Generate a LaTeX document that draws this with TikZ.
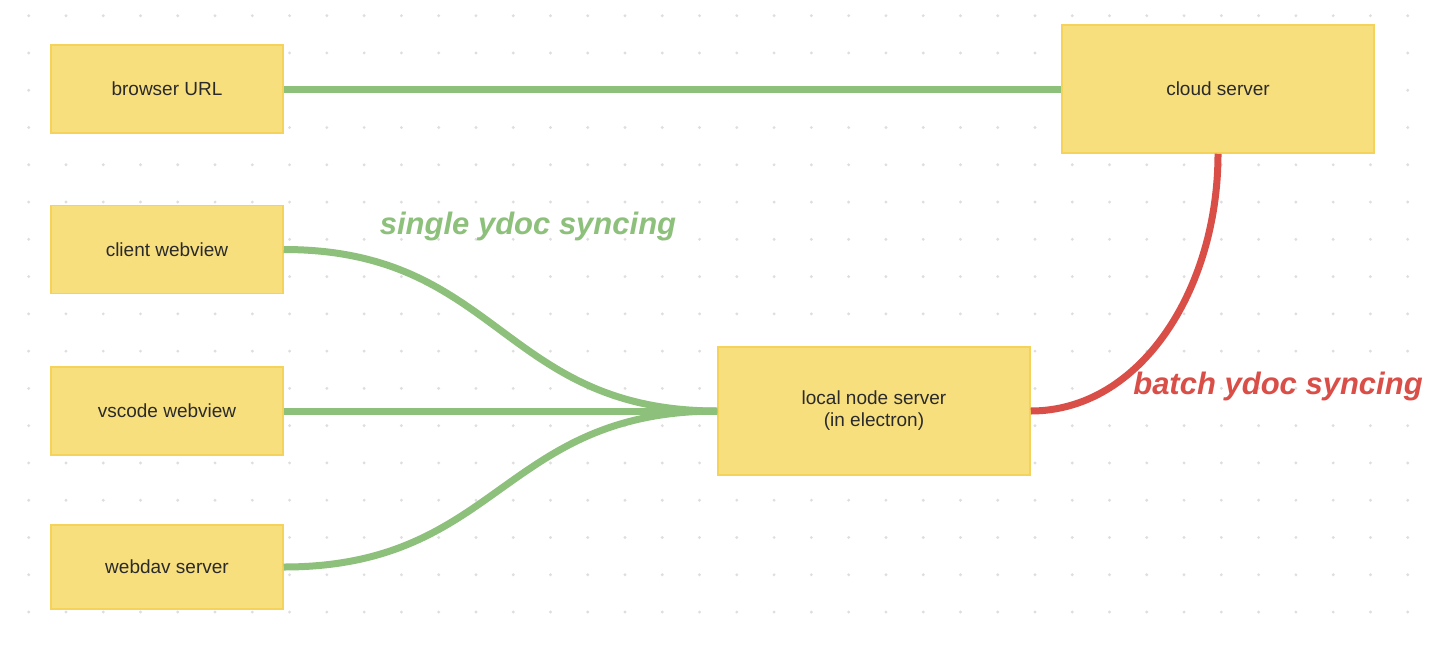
\documentclass[tikz,border=0pt]{standalone}
\usepackage{fontspec}
\setmainfont{Liberation Sans}
\definecolor{boxfill}{HTML}{F8DF7E}
\definecolor{boxline}{HTML}{F5D35A}
\definecolor{lgreen}{HTML}{8DC07B}
\definecolor{lred}{HTML}{DA4E48}
\definecolor{dotc}{HTML}{DEDEDE}
\definecolor{txt}{HTML}{2A2A2A}
\begin{document}
\begin{tikzpicture}[x=1pt,y=-1pt,
  box/.style={draw=boxline,line width=1.5pt,fill=boxfill,text=txt,
    font=\fontsize{19}{22}\selectfont,align=center,inner sep=0pt},
  small/.style={box,minimum width=232pt,minimum height=88pt},
  big/.style={box,minimum width=312pt,minimum height=128pt},
  gline/.style={draw=lgreen,line width=7pt},
  rline/.style={draw=lred,line width=7pt},
  hand/.style={font=\fontsize{31}{34}\selectfont\bfseries\itshape,inner sep=0pt}
]
\useasboundingbox[fill=white] (0,0) rectangle (1440,646);
% dot grid
\foreach \i in {0,...,37}{
  \foreach \j in {0,...,16}{
    \fill[dotc] (28.7+37.27*\i, 15.7+37.27*\j) circle (1.6pt);
  }
}
% boxes
\node[small] (browser) at (167,89) {browser URL};
\node[big] (cloud) at (1218,89) {cloud server};
\node[small] (client) at (167,249.5) {client webview};
\node[small] (vscode) at (167,411) {vscode webview};
\node[small,minimum height=84pt] (webdav) at (167,567) {webdav server};
\node[big] (local) at (874,411) {local node server\\(in electron)};
% connectors
\draw[gline] (browser.east) -- (cloud.west);
\draw[gline] (client.east) .. controls +(215,0) and +(-215,0) .. (local.west);
\draw[gline] (vscode.east) -- (local.west);
\draw[gline] (webdav.east) .. controls +(215,0) and +(-215,0) .. (local.west);
\draw[rline] (local.east) .. controls +(110,0) and +(0,135) .. (cloud.south);
% labels
\node[hand,text=lgreen] (single) at (528,226) {single ydoc syncing};
\node[hand,text=lred] (batch) at (1278,386) {batch ydoc syncing};
\end{tikzpicture}
\end{document}
